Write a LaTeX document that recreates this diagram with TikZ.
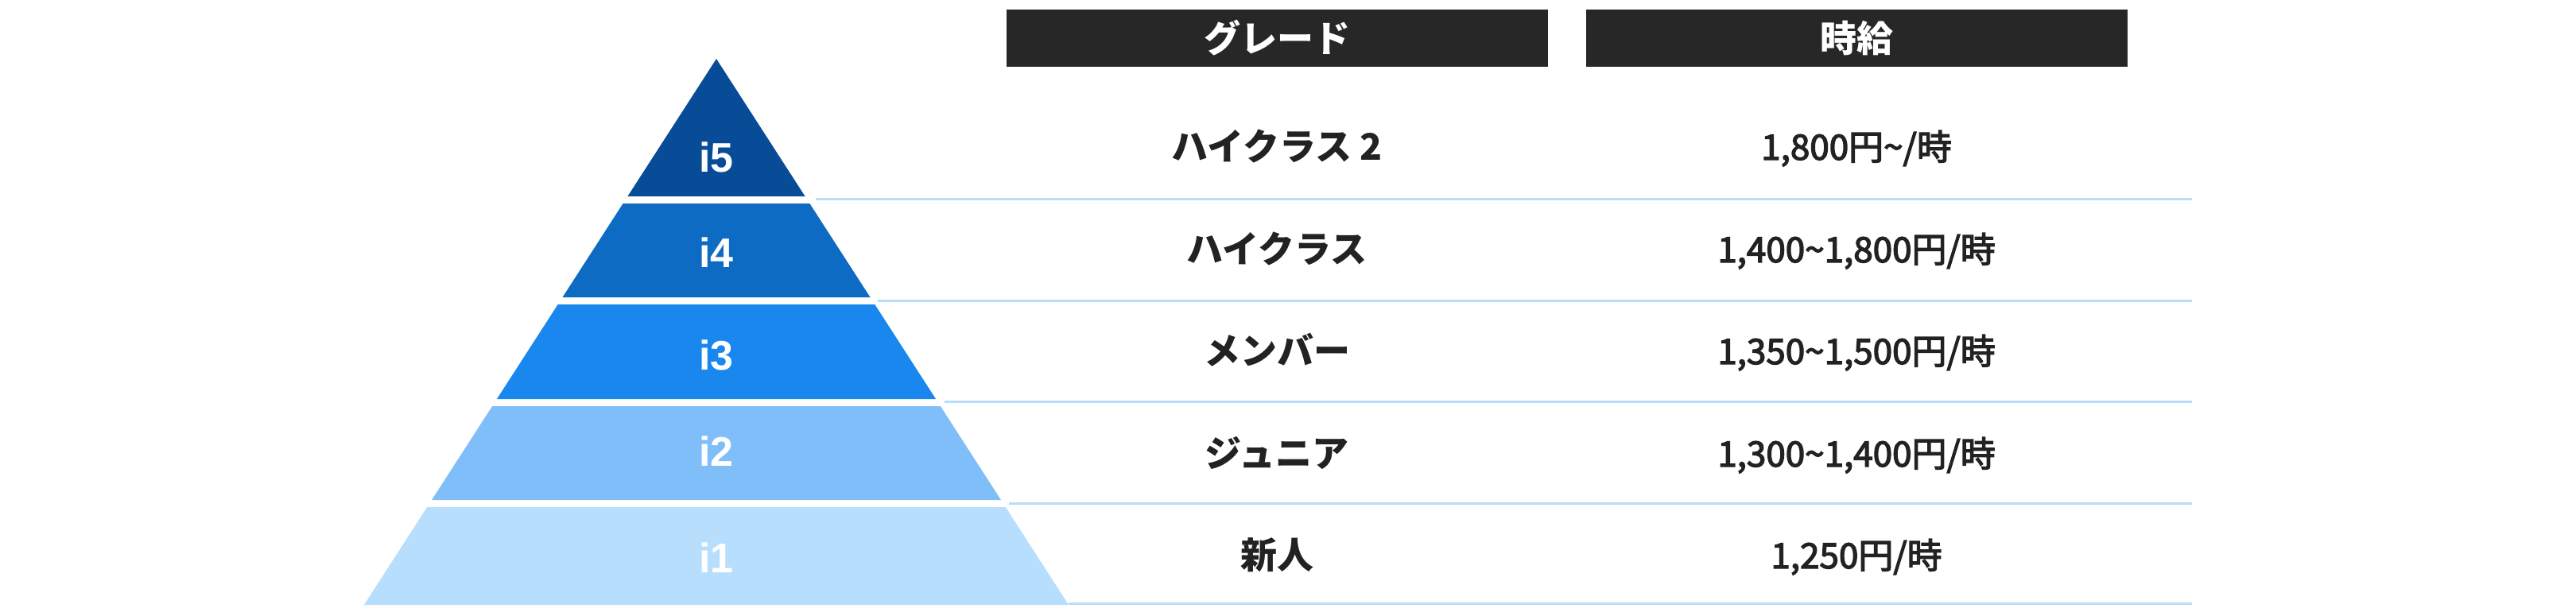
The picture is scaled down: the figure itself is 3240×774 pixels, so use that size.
\documentclass[tikz,border=0pt]{standalone}
\usepackage{fontspec}
\setmainfont{Noto Sans CJK JP}
\newfontfamily\wagefont{Noto Sans CJK JP}[FakeBold=3]
\newfontfamily\labelfont{Liberation Sans}[UprightFont=* Bold]
\definecolor{bandfive}{HTML}{084C97}
\definecolor{bandfour}{HTML}{0D6BC3}
\definecolor{bandthree}{HTML}{1A87EF}
\definecolor{bandtwo}{HTML}{80BEF9}
\definecolor{bandone}{HTML}{B8DEFE}
\definecolor{sepline}{HTML}{B8DCFA}
\definecolor{headfill}{HTML}{272727}
\definecolor{rowtext}{HTML}{222222}
\tikzset{
  bandlabel/.style={anchor=base, inner sep=0pt, text=white, font=\labelfont\fontsize{13}{14}\selectfont},
  headcell/.style={fill=headfill, minimum width=170.25pt, minimum height=18pt, inner sep=0pt, text=white, font=\bfseries\fontsize{11.5}{12}\selectfont},
  gradetext/.style={anchor=base, inner sep=0pt, text=rowtext, font=\bfseries\fontsize{11.5}{12}\selectfont},
  wagetext/.style={anchor=base, inner sep=0pt, text=rowtext, font=\wagefont\fontsize{11}{12}\selectfont},
  rowsep/.style={draw=sepline, line width=0.75pt}
}
\newcommand{\pyrband}[4]{\fill [#4] ({901-(#2-74)*0.645},#2) -- ({901+(#2-74)*0.645},#2) -- ({901+(#3-74)*0.645},#3) -- ({901-(#3-74)*0.645},#3) -- cycle;}
\newcommand{\pyrlabel}[3]{\node at (901,#2) (#1) [bandlabel] {#3};}
\newcommand{\graderow}[4]{\node at (1606,#2) (grade#1) [gradetext] {#3}; \node at (2335,#2) (wage#1) [wagetext] {#4};}
\newcommand{\rowline}[2]{\draw [rowsep] (#1,#2) -- (2757,#2);}

\begin{document}
\begin{tikzpicture}[x=0.25pt, y=-0.25pt]
\useasboundingbox (0,0) rectangle (3240,774);

\pyrband{i5}{74}{247}{bandfive};
\pyrband{i4}{256}{374}{bandfour};
\pyrband{i3}{383}{502}{bandthree};
\pyrband{i2}{511}{629}{bandtwo};
\pyrband{i1}{638}{761}{bandone};

\pyrlabel{i5}{216}{i5};
\pyrlabel{i4}{336}{i4};
\pyrlabel{i3}{465}{i3};
\pyrlabel{i2}{586}{i2};
\pyrlabel{i1}{720}{i1};

\node at (1606.5,48) (headgrade) [headcell] {グレード};
\node at (2335.5,48) (headwage) [headcell] {時給};

\graderow{i5}{201}{ハイクラス 2}{1,800円\textasciitilde/時};
\graderow{i4}{330}{ハイクラス}{1,400\textasciitilde1,800円/時};
\graderow{i3}{458}{メンバー}{1,350\textasciitilde1,500円/時};
\graderow{i2}{587}{ジュニア}{1,300\textasciitilde1,400円/時};
\graderow{i1}{715}{新人}{1,250円/時};

\rowline{1026}{250.5};
\rowline{1104}{378};
\rowline{1188}{505};
\rowline{1269}{633};
\rowline{1344}{759.5};

\end{tikzpicture}
\end{document}
